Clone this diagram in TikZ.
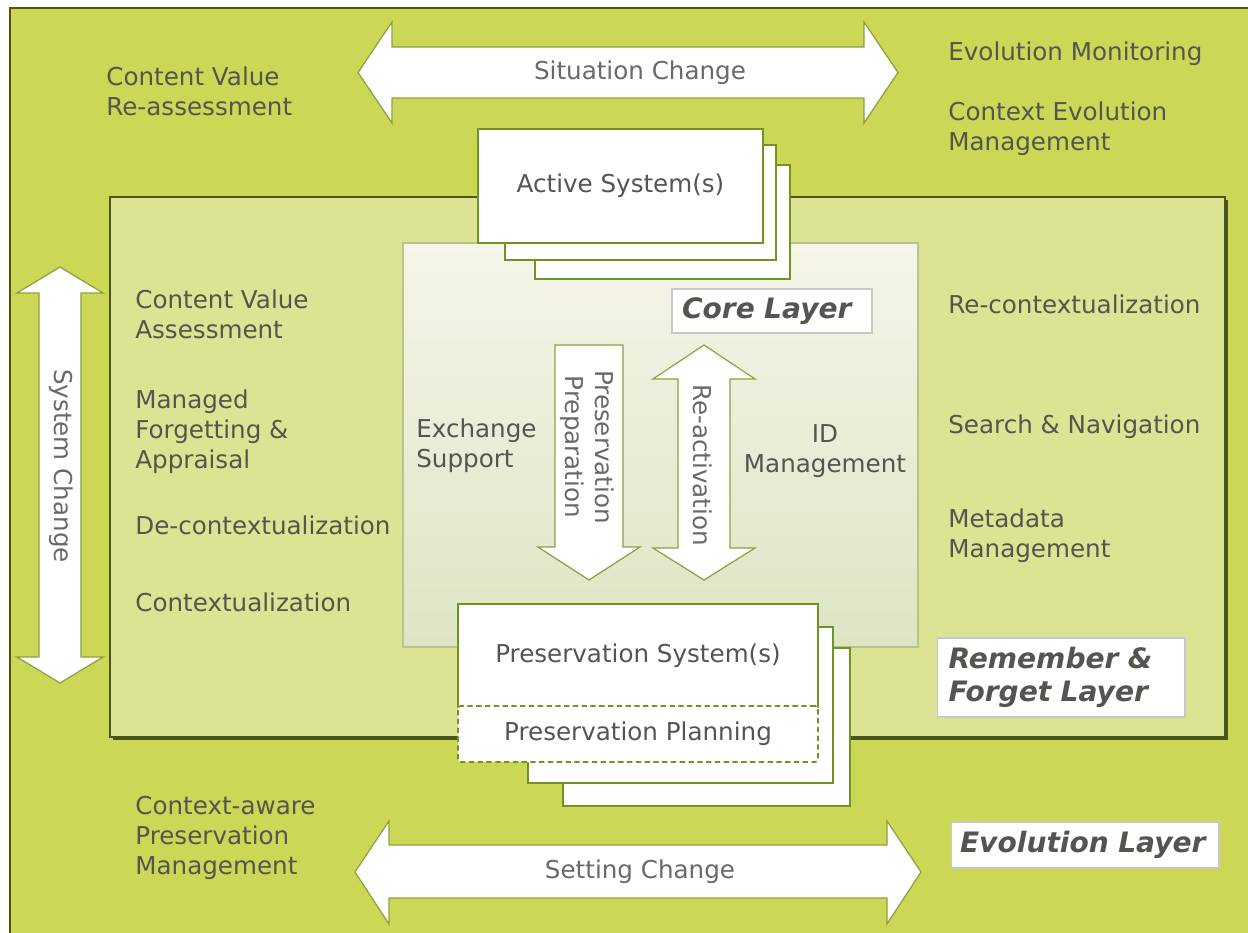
\documentclass[tikz,border=0pt]{standalone}
\usepackage{fontspec}
\setmainfont{DejaVu Sans}[BoldFont={DejaVu Sans Bold}, ItalicFont={DejaVu Sans Oblique}, BoldItalicFont={DejaVu Sans Bold Oblique}]
\usetikzlibrary{fit, shadows}
\definecolor{evoGreen}{RGB}{204,215,86}
\definecolor{rfGreen}{RGB}{220,227,146}
\definecolor{coreTop}{RGB}{245,245,233}
\definecolor{coreBot}{RGB}{222,228,196}
\definecolor{frameDark}{RGB}{76,84,28}
\definecolor{boxLine}{RGB}{112,148,34}
\definecolor{arrowLine}{RGB}{140,160,60}
\definecolor{coreLine}{RGB}{185,195,140}
\definecolor{labelLine}{RGB}{200,200,200}
\definecolor{txtGray}{RGB}{85,85,80}
\definecolor{arrowTxt}{RGB}{105,105,105}

\begin{document}
\begin{tikzpicture}[x=0.02cm, y=-0.02cm,
    area/.style={rectangle, inner sep=0pt, outer sep=0pt},
    sysbox/.style={rectangle, draw=boxLine, line width=1.2pt, fill=white, inner sep=0pt,
                   font=\fontsize{14}{17}\selectfont, text=txtGray},
    planbox/.style={sysbox, line width=1pt, dash pattern=on 3pt off 2pt, rounded corners=1.5pt},
    layerlabel/.style={rectangle, draw=labelLine, line width=0.6pt, fill=white, inner sep=0pt,
                       font=\fontsize{16}{19}\selectfont\bfseries\itshape, text=txtGray, align=left},
    item/.style={font=\fontsize{14}{17}\selectfont, text=txtGray, align=left, anchor=base west, inner sep=0pt},
    bigarrow/.style={draw=arrowLine, fill=white, line width=0.7pt, line join=miter},
    arrowlabel/.style={font=\fontsize{14}{17}\selectfont, text=arrowTxt, inner sep=0pt, align=center}]

    \useasboundingbox (0,0) rectangle (1248,933);

    % layers
    \node[area, fill=evoGreen, fit={(10,8) (1248,933)}] (evo) {};
    \draw[frameDark, line width=1pt] (evo.south west) -- (evo.north west) -- (evo.north east);
    \node[area, fill=rfGreen, draw=frameDark, line width=1pt,
          general shadow={fill=frameDark, shadow xshift=1.6pt, shadow yshift=-1.6pt},
          fit={(110,197) (1225,737)}] (remfor) {};
    \node[area, draw=coreLine, line width=0.6pt, top color=coreTop, bottom color=coreBot,
          fit={(403,243) (918,647)}] (core) {};

    % big arrows
    \draw[bigarrow] (358,72.5) -- (392,22) -- (392,47) -- (864,47) -- (864,22) -- (898,72.5)
        -- (864,123) -- (864,98) -- (392,98) -- (392,123) -- cycle;
    \draw[bigarrow] (355,872) -- (389,821) -- (389,845) -- (887,845) -- (887,821) -- (921,872)
        -- (887,924) -- (887,898) -- (389,898) -- (389,924) -- cycle;
    \draw[bigarrow] (60,267) -- (103,293) -- (81,293) -- (81,657) -- (103,657) -- (60,683)
        -- (17,657) -- (39,657) -- (39,293) -- (17,293) -- cycle;
    \draw[bigarrow] (555,345) -- (623,345) -- (623,547) -- (640,547) -- (589,580)
        -- (538,547) -- (555,547) -- cycle;
    \draw[bigarrow] (704,345) -- (755,379) -- (730,379) -- (730,548) -- (755,548) -- (704,580)
        -- (653,548) -- (678,548) -- (678,379) -- (653,379) -- cycle;

    \node[arrowlabel] (sitchg) at (640,73) {Situation Change};
    \node[arrowlabel] (setchg) at (640,872) {Setting Change};
    \node[arrowlabel, rotate=-90] (syschg) at (61,466) {System Change};
    \node[arrowlabel, rotate=-90] (prep) at (587,447) {Preservation\\Preparation};
    \node[arrowlabel, rotate=-90] (react) at (703,465) {Re-activation};

    % system stacks
    \node[sysbox, minimum width=5.1cm, minimum height=2.28cm] (active3) at (662.5,222) {};
    \node[sysbox, minimum width=5.42cm, minimum height=2.3cm] (active2) at (640.5,202.5) {};
    \node[sysbox, minimum width=5.7cm, minimum height=2.28cm] (active) at (620.5,186) {Active System(s)};

    \node[sysbox, minimum width=5.74cm, minimum height=3.16cm] (pres3) at (706.5,727) {};
    \node[sysbox, minimum width=6.1cm, minimum height=3.12cm] (pres2) at (680.5,705) {};
    \node[sysbox, minimum width=7.2cm, minimum height=2.06cm] (pres) at (638,655.5) {Preservation System(s)};
    \node[planbox, minimum width=7.2cm, minimum height=1.12cm] (plan) at (638,734) {Preservation Planning};

    % layer labels
    \node[layerlabel, text width=3.6cm, minimum width=4cm, minimum height=0.88cm] (corelbl) at (772,311) {Core Layer};
    \node[layerlabel, text width=4.5cm, minimum width=4.96cm, minimum height=1.58cm] (rflbl) at (1061,677.5) {Remember \&\\Forget Layer};
    \node[layerlabel, text width=5cm, minimum width=5.36cm, minimum height=0.92cm] (evolbl) at (1085,845) {Evolution Layer};

    % functions
    \node[item] (cvra) at (106,115) {Content Value\\Re-assessment};
    \node[item] (evomon) at (948,60) {Evolution Monitoring};
    \node[item] (ctxevo) at (948,150) {Context Evolution\\Management};
    \node[item] (cva) at (135,338) {Content Value\\Assessment};
    \node[item] (mfa) at (135,468) {Managed\\Forgetting \&\\Appraisal};
    \node[item] (decontext) at (135,534) {De-contextualization};
    \node[item] (context) at (135,611) {Contextualization};
    \node[item] (exch) at (416,467) {Exchange\\Support};
    \node[item, align=center, anchor=base] (idm) at (825,472) {ID\\Management};
    \node[item] (recontext) at (948,313) {Re-contextualization};
    \node[item] (search) at (948,433) {Search \& Navigation};
    \node[item] (meta) at (948,557) {Metadata\\Management};
    \node[item] (capm) at (135,874) {Context-aware\\Preservation\\Management};
\end{tikzpicture}
\end{document}
